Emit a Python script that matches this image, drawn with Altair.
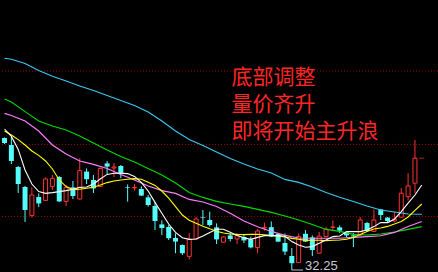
import altair as alt
import pandas as pd

# ---- daily bars (index -1 is the partly hidden bar on the left edge) ----
bar_index = list(range(-1, 60))
opens = [38.85, 38.50, 37.40, 36.40, 34.98, 35.90, 35.73, 36.43, 36.90, 35.68,
         36.38, 35.80, 37.17, 36.75, 36.43, 37.58, 37.35, 37.45, 36.38, 36.35,
         36.30, 35.88, 35.45, 34.53, 34.40, 33.85, 33.50, 32.93, 33.80, 34.88,
         34.75, 34.38, 33.64, 33.98, 33.80, 33.90, 33.78, 33.38, 34.35, 34.39,
         34.05, 33.60, 32.95, 32.62, 34.06, 33.88, 33.09, 33.92, 34.38, 34.38,
         34.13, 33.98, 34.00, 34.60, 34.18, 35.28, 34.87, 34.70, 34.89, 35.92,
         36.59]
highs = [38.88, 38.90, 37.45, 36.45, 36.38, 36.08, 36.88, 37.00, 36.95, 36.50,
         36.70, 37.84, 37.33, 37.00, 37.38, 37.70, 37.60, 37.50, 36.53, 36.55,
         36.43, 36.00, 35.65, 34.73, 34.50, 34.08, 33.53, 34.10, 34.90, 35.25,
         35.17, 34.58, 33.93, 34.10, 34.08, 34.00, 33.92, 34.30, 34.62, 34.68,
         34.10, 34.08, 33.35, 34.08, 34.25, 33.98, 34.15, 34.40, 34.73, 34.48,
         34.20, 34.10, 34.90, 34.65, 35.28, 35.30, 34.90, 35.15, 36.34, 37.09,
         38.75]
lows = [38.55, 37.55, 36.10, 34.65, 34.88, 35.40, 35.70, 36.25, 35.65, 35.45,
        35.80, 35.78, 36.55, 36.10, 36.40, 37.05, 36.90, 36.84, 35.67, 36.22,
        35.95, 35.42, 34.25, 34.00, 33.75, 33.09, 33.00, 32.78, 33.78, 34.50,
        34.42, 33.55, 33.63, 33.67, 33.55, 33.60, 33.33, 33.09, 34.22, 33.90,
        33.65, 33.00, 32.25, 32.60, 33.65, 32.95, 33.08, 33.90, 34.20, 34.10,
        33.90, 33.40, 33.95, 34.15, 34.15, 34.75, 34.65, 34.63, 34.85, 35.73,
        36.09]
closes = [38.60, 37.70, 36.55, 35.25, 36.00, 35.58, 36.80, 36.83, 35.68, 36.38,
          35.95, 37.22, 36.79, 36.33, 37.33, 37.42, 37.40, 37.09, 36.35, 36.38,
          35.97, 35.50, 34.70, 34.35, 33.84, 33.67, 33.09, 33.78, 34.80, 34.85,
          34.50, 33.78, 33.90, 33.80, 33.97, 33.73, 33.38, 34.20, 34.38, 33.92,
          33.67, 33.17, 32.59, 33.93, 33.67, 33.25, 33.94, 34.29, 34.40, 34.22,
          33.98, 33.93, 34.75, 34.20, 34.75, 35.00, 34.70, 34.80, 36.09, 36.45,
          37.84]

# ---- moving averages ----
fast_index = list(range(-1, 61))
ma5 = [39.30, 38.93, 38.28, 37.25, 36.55, 36.17, 36.08, 36.12, 36.17, 36.22,
       36.29, 36.38, 36.40, 36.55, 36.80, 37.03, 37.09, 37.09, 37.07, 36.93,
       36.63, 36.20, 35.63, 35.09, 34.55, 34.13, 33.86, 33.78, 33.80, 33.95,
       34.13, 34.29, 34.29, 34.14, 33.98, 33.86, 33.78, 33.88, 33.97, 33.97,
       33.97, 33.94, 33.67, 33.50, 33.39, 33.42, 33.59, 33.75, 33.92, 33.95,
       34.17, 34.17, 34.17, 34.25, 34.42, 34.62, 34.62, 34.79, 35.17, 35.59,
       36.00, 36.50]
ma10 = [39.20, 39.00, 38.77, 38.50, 38.20, 37.98, 37.70, 37.30, 36.75, 36.42,
        36.27, 36.29, 36.34, 36.39, 36.50, 36.62, 36.70, 36.75, 36.79, 36.82,
        36.79, 36.64, 36.48, 36.20, 35.84, 35.42, 35.00, 34.74, 34.59, 34.44,
        34.31, 34.19, 34.10, 34.05, 34.03, 34.02, 34.03, 34.03, 34.01, 33.98,
        33.94, 33.90, 33.83, 33.79, 33.73, 33.74, 33.74, 33.72, 33.74, 33.75,
        33.79, 33.88, 34.03, 34.18, 34.30, 34.35, 34.43, 34.55, 34.68, 34.90,
        35.23, 35.55]
slow_index = [-1, 0] + list(range(2, 61, 2))
ma20 = [40.08, 39.98, 39.70, 39.20, 38.50, 38.05, 37.70, 37.53, 37.33, 37.03,
        36.75, 36.45, 36.22, 36.08, 35.78, 35.65, 35.43, 35.09, 34.70, 34.41,
        34.18, 33.98, 33.85, 33.84, 33.84, 33.84, 33.88, 33.92, 33.96, 34.13,
        34.43, 34.67]
ma30 = [40.80, 40.65, 40.17, 39.70, 39.45, 39.25, 38.95, 38.60, 38.25, 37.93,
        37.65, 37.33, 37.00, 36.60, 36.13, 35.88, 35.68, 35.55, 35.43, 35.28,
        35.13, 34.95, 34.75, 34.53, 34.28, 34.18, 34.03, 34.00, 34.05, 34.15,
        34.28, 34.42]
ma60 = [42.84, 42.79, 42.58, 42.23, 41.94, 41.70, 41.45, 41.23, 40.98, 40.73,
        40.48, 40.15, 39.70, 39.20, 38.78, 38.48, 38.15, 37.83, 37.55, 37.30,
        37.10, 36.78, 36.63, 36.40, 36.12, 35.89, 35.68, 35.45, 35.25, 35.15,
        35.05, 35.04]

grid_levels = [42.20, 38.53, 34.93]
notes = ["底部调整", "量价齐升", "即将开始主升浪"]

RED = "#ff3232"
CYAN = "#54fcfc"
NOTE_RED = "#ff2626"

W, H = 438, 272
x_scale = alt.Scale(domain=[-0.93, 61.64], nice=False, zero=False)
y_scale = alt.Scale(domain=[32.15, 45.75], nice=False, zero=False)

bars = pd.DataFrame({"i": bar_index, "o": opens, "h": highs, "l": lows, "c": closes})
bars["dir"] = ["up" if c >= o else "down" for o, c in zip(opens, closes)]

X = alt.X("i:Q", scale=x_scale, axis=None)

grid = alt.Chart(pd.DataFrame({"p": grid_levels})).mark_rule(
    color="#9a0000", strokeWidth=1, strokeDash=[1, 2]
).encode(y=alt.Y("p:Q", scale=y_scale, axis=None))

wicks = alt.Chart(bars).mark_rule(strokeWidth=1, clip=True).encode(
    x=X,
    y=alt.Y("h:Q", scale=y_scale, axis=None),
    y2="l:Q",
    color=alt.Color("dir:N", scale=alt.Scale(domain=["up", "down"], range=[RED, CYAN]), legend=None),
)

up_bodies = alt.Chart(bars).transform_filter("datum.dir == 'up'").mark_bar(
    size=4, fill="black", stroke=RED, strokeWidth=1, clip=True
).encode(x=X, y=alt.Y("o:Q", scale=y_scale, axis=None), y2="c:Q")

down_bodies = alt.Chart(bars).transform_filter("datum.dir == 'down'").mark_bar(
    size=5, color=CYAN, clip=True
).encode(x=X, y=alt.Y("o:Q", scale=y_scale, axis=None), y2="c:Q")


def ma_line(index, values, color):
    df = pd.DataFrame({"i": index, "v": values})
    return alt.Chart(df).mark_line(color=color, strokeWidth=1.1, clip=True).encode(
        x=X, y=alt.Y("v:Q", scale=y_scale, axis=None)
    )


lines = [
    ma_line(slow_index, ma60, "#3cc8f0"),
    ma_line(slow_index, ma30, "#00dc00"),
    ma_line(slow_index, ma20, "#ff80ff"),
    ma_line(fast_index, ma10, "#ffff00"),
    ma_line(fast_index, ma5, "#ffffff"),
]

# last-price marker just right of the newest bar
last = pd.DataFrame({"i": [bar_index[-1] + 1], "p": [closes[-1]]})
last_tick = alt.Chart(last).mark_tick(
    orient="horizontal", size=5, thickness=1, color=RED
).encode(x=X, y=alt.Y("p:Q", scale=y_scale, axis=None))

# lowest-low pointer and label
k_low = min(range(len(lows)), key=lambda n: lows[n])
low_df = pd.DataFrame({
    "i": [bar_index[k_low]], "i2": [bar_index[k_low] + 1.65],
    "p": [lows[k_low]], "label": [f"{lows[k_low]:.2f}"],
})
low_rule = alt.Chart(low_df).mark_rule(color="#c4c4cc", strokeWidth=1).encode(
    x=X, x2="i2:Q", y=alt.Y("p:Q", scale=y_scale, axis=None)
)
low_text = alt.Chart(low_df).mark_text(
    align="left", baseline="alphabetic", dx=2, dy=0,
    font="Liberation Sans", fontSize=13, color="#c8c8d2"
).encode(x=alt.X("i2:Q", scale=x_scale, axis=None), y=alt.Y("p:Q", scale=y_scale, axis=None), text="label:N")

note_layers = []
for n, line in enumerate(notes):
    note_layers.append(
        alt.Chart(pd.DataFrame({"t": [line]})).mark_text(
            align="left", baseline="alphabetic", font="Noto Sans CJK SC",
            fontSize=21, color=NOTE_RED
        ).encode(x=alt.value(231.5), y=alt.value(83.5 + n * 27.3), text="t:N")
    )

chart = alt.layer(
    grid, wicks, up_bodies, down_bodies, *lines, last_tick, low_rule, low_text, *note_layers
).properties(
    width=W, height=H, padding=0, autosize="none", background="black"
).configure_view(stroke=None)

chart.save("out.html", embed_options={"renderer": "svg", "actions": False})
